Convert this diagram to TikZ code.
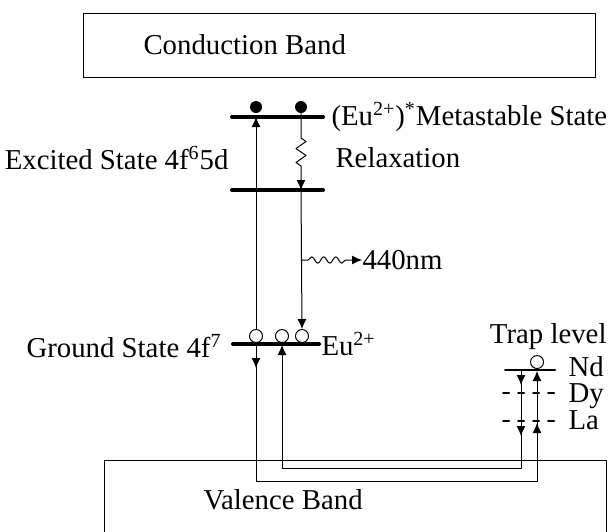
\documentclass[tikz,border=0pt]{standalone}
\usepackage{fontspec}
\setmainfont{Liberation Serif}
\usetikzlibrary{arrows.meta, decorations.pathmorphing, decorations.markings}
\tikzset{every node/.style={font=\fontsize{14.4}{16}\selectfont, inner sep=0pt}, every path/.style={line cap=round, line join=round}, >={Latex[length=5pt, width=4.5pt]}}
\tikzset{
    statebar/.style={line width=2pt},
    trapbar/.style={line width=1pt},
    trapdash/.style={line width=1pt, dash pattern=on 3pt off 4.5pt},
    electron/.style={circle, fill=black, minimum size=6pt, inner sep=0pt},
    hole/.style={circle, draw, fill=white, minimum size=6.5pt, inner sep=0pt, line width=0.5pt}
}

\begin{document}
\begin{tikzpicture}[x=0.5pt, y=-0.5pt, line width=0.5pt]
    \useasboundingbox (0,0) rectangle (608,531);

    % bands
    \draw (83,13) rectangle (595,77);
    \node [anchor=west] (cb) at (143,45) {Conduction Band};
    \draw (104,540) |- (606,460) -- (606,540);
    \node [anchor=west] (vb) at (203,500) {Valence Band};

    % Eu levels
    \coordinate (upL) at (256,117);
    \coordinate (loR) at (301,190);
    \coordinate (gL) at (256,344);
    \coordinate (gM) at (282,345);
    \draw [statebar] (232,117) -- (323,117);
    \draw [statebar] (232,190) -- (323,190);
    \draw [statebar] (233,344) -- (319,344);

    \node [electron] (eA) at (256,107) {};
    \node [electron] (eB) at (301,107) {};
    \node [hole] (hA) at (256,336) {};
    \node [hole] (hB) at (282,336) {};
    \node [hole] (hC) at (302,336) {};

    \node [anchor=west] (meta) at (331,117) {(Eu\textsuperscript{2+})\textsuperscript{*}Metastable State};
    \node [anchor=east] (exc) at (229,158) {Excited State 4f\textsuperscript{6}5d};
    \node [anchor=west] (relax) at (335,158) {Relaxation};
    \node [anchor=east] (gnd) at (222,346) {Ground State 4f\textsuperscript{7}};
    \node [anchor=west] (eu) at (321,344) {Eu\textsuperscript{2+}};

    % transitions
    \draw [->] (hA.north) -- (upL);
    \draw [->] (eB.south) -- (301,138)
        decorate [decoration={zigzag, amplitude=2.5pt, segment length=7pt}] {-- (301,172)}
        -- (loR);
    \draw [->] (loR) -- (hC.north);

    \coordinate (emit) at (301,260);
    \node [anchor=west] (nm) at (362,260) {440nm};
    \draw [->] (emit) -- (308,260)
        decorate [decoration={snake, amplitude=1.6pt, segment length=6pt}] {-- (348,260)}
        -- (nm.west);

    % trap levels
    \coordinate (ndL) at (521,370);
    \coordinate (ndR) at (537,371);
    \draw [trapbar] (505,370) -- (555,370);
    \draw [trapdash] (503,393) -- (557,393);
    \draw [trapdash] (503,421) -- (557,421);
    \node [hole] (hN) at (537,362) {};
    \node [anchor=base east] (trap) at (607,343) {Trap level};
    \node [anchor=base west] (nd) at (568,376) {Nd};
    \node [anchor=base west] (dy) at (568,402) {Dy};
    \node [anchor=base west] (la) at (568,429) {La};

    % hole paths through the valence band
    \draw [->, postaction={decorate}, decoration={markings,
            mark=at position 12pt with {\arrow{>}},
            mark=at position 238pt with {\arrow{>}}}]
        (gL) -- (256,481) -- (537,481) -- (ndR);
    \draw [->, postaction={decorate}, decoration={markings,
            mark=at position 7.5pt with {\arrow{>}},
            mark=at position 33pt with {\arrow{>}}}]
        (ndL) -- (521,468) -- (282,468) -- (gM);
\end{tikzpicture}
\end{document}
